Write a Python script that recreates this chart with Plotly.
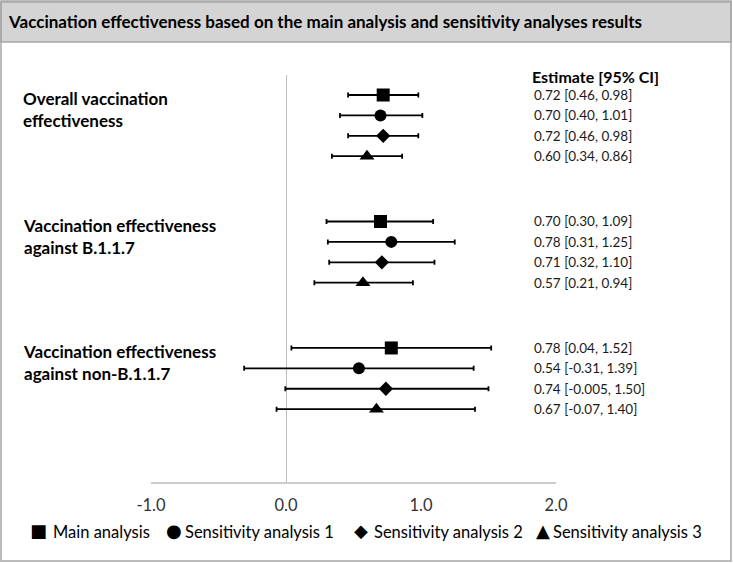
import plotly.graph_objects as go

# groups (top to bottom) and analyses
groups = ["Overall vaccination<br>effectiveness",
          "Vaccination effectiveness<br>against B.1.1.7",
          "Vaccination effectiveness<br>against non-B.1.1.7"]
analyses = ["Main analysis", "Sensitivity analysis 1", "Sensitivity analysis 2", "Sensitivity analysis 3"]
legend_glyphs = ["■", "●", "◆", "▲"]
symbols = ["square", "circle", "diamond", "triangle-up"]
sizes = [13, 12, 11, 13]

main_est = [0.72, 0.70, 0.78]
main_lo = [0.46, 0.30, 0.04]
main_hi = [0.98, 1.09, 1.52]

s1_est = [0.70, 0.78, 0.54]
s1_lo = [0.40, 0.31, -0.31]
s1_hi = [1.01, 1.25, 1.39]

s2_est = [0.72, 0.71, 0.74]
s2_lo = [0.46, 0.32, -0.005]
s2_hi = [0.98, 1.10, 1.50]

s3_est = [0.60, 0.57, 0.67]
s3_lo = [0.34, 0.21, -0.07]
s3_hi = [0.86, 0.94, 1.40]

x_ticks = [-1, 0, 1, 2]
x_ticktext = ["-1.0", "0.0", "1.0", "2.0"]

series = [(main_est, main_lo, main_hi), (s1_est, s1_lo, s1_hi),
          (s2_est, s2_lo, s2_hi), (s3_est, s3_lo, s3_hi)]

GROUP_STEP = 6.2
FONT = "Lato, Calibri, sans-serif"

# plot area in pixels
L, R, T, B = 151, 556, 75, 482
W, H = R - L, B - T


def px_x(p):
    return (p - L) / W


def px_y(p):
    return (B - p) / H


def row_pos(g, a):
    return g * GROUP_STEP + a


def fmt(v):
    return f"{v:.2f}" if round(v, 2) == v else f"{v:g}"


fig = go.Figure()

for a, (est, lo, hi) in enumerate(series):
    fig.add_trace(go.Scatter(
        x=est,
        y=[row_pos(g, a) for g in range(len(groups))],
        mode="markers",
        name=analyses[a],
        showlegend=False,
        marker=dict(symbol=symbols[a], size=sizes[a], color="black", line=dict(width=0)),
        error_x=dict(type="data", symmetric=False,
                     array=[h - e for h, e in zip(hi, est)],
                     arrayminus=[e - l for e, l in zip(est, lo)],
                     color="black", thickness=1.8, width=2.5),
    ))
    # estimate text on the right
    for g in range(len(groups)):
        fig.add_annotation(
            x=px_x(532), xref="paper", y=row_pos(g, a), yref="y",
            text=f"{fmt(est[g])} [{fmt(lo[g])}, {fmt(hi[g])}]",
            showarrow=False, xanchor="left",
            font=dict(size=13.5, color="#1a1a1a", family=FONT))

for g, label in enumerate(groups):
    fig.add_annotation(
        x=px_x(21), xref="paper", y=row_pos(g, 0.72), yref="y",
        text="<b>" + label + "</b>", showarrow=False, xanchor="left", align="left",
        font=dict(size=17, color="black", family=FONT))

fig.add_annotation(
    x=px_x(530), xref="paper", y=px_y(65), yref="paper",
    text="<b>Estimate [95% CI]</b>", showarrow=False, xanchor="left",
    font=dict(size=16, color="black", family=FONT))

# legend row at the bottom (glyph + label)
glyph_x = [38, 174, 361, 543]
text_x = [51, 183, 372, 551]
for i, name in enumerate(analyses):
    fig.add_annotation(
        x=px_x(glyph_x[i]), xref="paper", y=px_y(543), yref="paper",
        text=legend_glyphs[i], showarrow=False, xanchor="center",
        font=dict(size=18, color="black", family="DejaVu Sans"))
    fig.add_annotation(
        x=px_x(text_x[i]), xref="paper", y=px_y(544), yref="paper",
        text=name, showarrow=False, xanchor="left",
        font=dict(size=16.5, color="black", family=FONT))

# title band and outer frame
fig.add_shape(type="rect", xref="paper", yref="paper",
              x0=px_x(1), x1=px_x(731), y0=px_y(2), y1=px_y(42),
              fillcolor="#d4d4d4", line=dict(color="#a6a6a6", width=1.5), layer="below")
fig.add_shape(type="rect", xref="paper", yref="paper",
              x0=px_x(1), x1=px_x(731), y0=px_y(561), y1=px_y(1),
              fillcolor="rgba(0,0,0,0)", line=dict(color="#a6a6a6", width=1.5))

fig.update_layout(
    width=733, height=563,
    margin=dict(l=L, r=733 - R, t=T, b=563 - B),
    paper_bgcolor="white", plot_bgcolor="white",
    font=dict(family=FONT, color="black"),
    title=dict(text="<b>Vaccination effectiveness based on the main analysis and sensitivity analyses results</b>",
               x=9 / 733, xanchor="left", xref="container",
               y=1 - 22 / 563, yanchor="middle", yref="container",
               font=dict(size=17, color="black", family=FONT)),
    xaxis=dict(range=[-1, 2], tickvals=x_ticks, ticktext=x_ticktext,
               showgrid=False, zeroline=True, zerolinecolor="#bdbdbd", zerolinewidth=1,
               showline=True, linecolor="#cccccc", linewidth=2, ticks="",
               ticklabelstandoff=7, tickfont=dict(size=16.5, color="#333", family=FONT),
               fixedrange=True),
    yaxis=dict(range=[(B - 95) / 20.4, (T - 95) / 20.4], visible=False,
               showgrid=False, zeroline=False, fixedrange=True),
    showlegend=False,
)

fig.write_html("out.html", config={"displayModeBar": False},
               post_script="document.body.style.margin='0';document.body.style.overflow='hidden';")
